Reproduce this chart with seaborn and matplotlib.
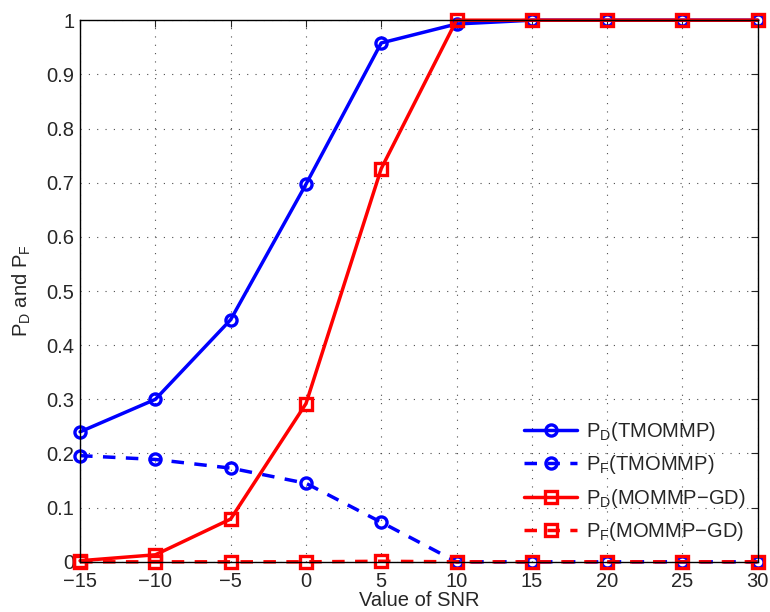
import numpy as np
import pandas as pd
import seaborn as sns
import matplotlib.pyplot as plt

sns.set_style("white")
plt.rcParams['font.family'] = ['Liberation Sans', 'DejaVu Sans']
plt.rcParams['mathtext.default'] = 'regular'

snr = [-15, -10, -5, 0, 5, 10, 15, 20, 25, 30]
pd_tmommp = [0.240, 0.300, 0.447, 0.697, 0.958, 0.993, 1.0, 1.0, 1.0, 1.0]
pf_tmommp = [0.196, 0.189, 0.173, 0.145, 0.073, 0.0, 0.0, 0.0, 0.0, 0.0]
pd_mommp_gd = [0.002, 0.013, 0.079, 0.292, 0.726, 1.0, 1.0, 1.0, 1.0, 1.0]
pf_mommp_gd = [0.0, 0.0, 0.0, 0.0, 0.001, 0.0, 0.0, 0.0, 0.0, 0.0]

series = [
    ('$P_D$(TMOMMP)', pd_tmommp, 'blue', 'o', '-'),
    ('$P_F$(TMOMMP)', pf_tmommp, 'blue', 'o', '--'),
    ('$P_D$(MOMMP\u2212GD)', pd_mommp_gd, 'red', 's', '-'),
    ('$P_F$(MOMMP\u2212GD)', pf_mommp_gd, 'red', 's', '--'),
]

fig = plt.figure(figsize=(7.7, 6.12), dpi=100)
ax = fig.add_axes([0.104, 0.082, 0.880, 0.885])

for label, vals, col, mk, ls in series:
    df = pd.DataFrame({'snr': snr, 'p': vals})
    sns.lineplot(x='snr', y='p', data=df, ax=ax, color=col, marker=mk,
                 linewidth=2.5, markersize=8,
                 markerfacecolor='none', markeredgecolor=col,
                 markeredgewidth=2.4, label=label, clip_on=False)
    if ls == '--':
        ax.lines[-1].set_linestyle((0, (3.6, 3.0)))

ax.set_xlim(-15, 30)
ax.set_ylim(0, 1)
ax.set_xticks(range(-15, 31, 5))
ax.set_yticks(np.arange(0, 1.01, 0.1))
ax.set_yticklabels(['0', '0.1', '0.2', '0.3', '0.4', '0.5', '0.6', '0.7', '0.8', '0.9', '1'])
ax.set_xticklabels([str(v).replace('-', '\u2212') for v in range(-15, 31, 5)])
ax.grid(True, linestyle=(0, (1, 6.5)), color='0.3', linewidth=0.8)
for s in ax.spines.values():
    s.set_color('black')
    s.set_linewidth(1)
ax.tick_params(direction='in', top=True, right=True, length=5, labelsize=14.5, pad=4)
ax.tick_params(axis='x', pad=7)
ax.set_xlabel('Value of SNR', fontsize=14.5, labelpad=0)
ax.set_ylabel('$P_D$ and $P_F$', fontsize=14.5, labelpad=10)

leg = ax.legend(loc='lower right', bbox_to_anchor=(1.0, 0.012), frameon=False,
                fontsize=14.5, handlelength=2.6, labelspacing=0.52,
                handletextpad=0.45, borderaxespad=0.2)

fig.savefig('out.png', dpi=100)
